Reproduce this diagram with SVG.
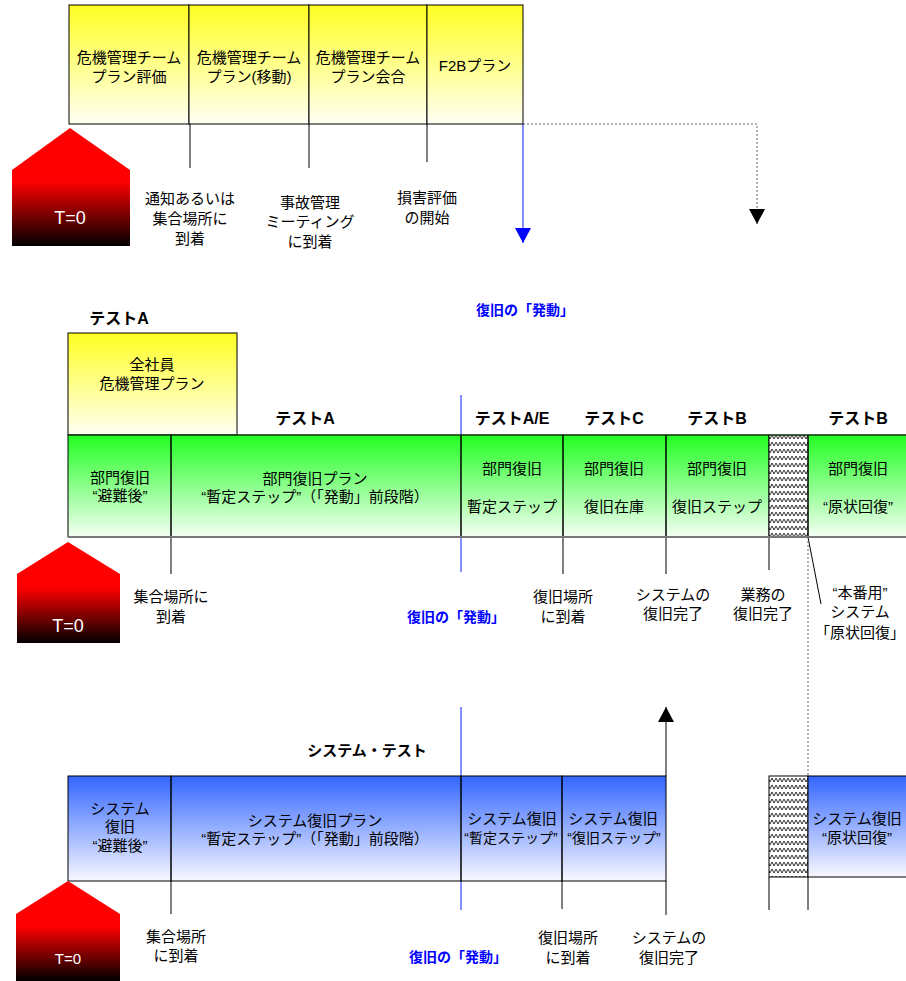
<svg xmlns="http://www.w3.org/2000/svg" width="906" height="981" viewBox="0 0 906 981">
<defs>
<linearGradient id="gy" x1="0" y1="0" x2="0" y2="1"><stop offset="0" stop-color="#ffff22"/><stop offset="1" stop-color="#fffff4"/></linearGradient>
<linearGradient id="gg" x1="0" y1="0" x2="0" y2="1"><stop offset="0" stop-color="#22ff22"/><stop offset="1" stop-color="#f4fff4"/></linearGradient>
<linearGradient id="gb" x1="0" y1="0" x2="0" y2="1"><stop offset="0" stop-color="#3366ff"/><stop offset="1" stop-color="#f8f8ff"/></linearGradient>
<linearGradient id="gr" x1="0" y1="0" x2="0" y2="1"><stop offset="0" stop-color="#ff0000"/><stop offset="0.45" stop-color="#ff0000"/><stop offset="1" stop-color="#000000"/></linearGradient>
<pattern id="zz" width="8" height="7" patternUnits="userSpaceOnUse"><rect width="8" height="7" fill="#fff"/><path d="M0,1 L2,5 L4,1 L6,5 L8,1" fill="none" stroke="#000" stroke-width="0.8"/></pattern>
<marker id="ab" markerWidth="16" markerHeight="16" refX="15" refY="8" orient="auto" markerUnits="userSpaceOnUse" viewBox="0 0 16 16"><path d="M0,0 L15,8 L0,16 Z" fill="#0000ff"/></marker>
<marker id="ak" markerWidth="16" markerHeight="16" refX="15" refY="8" orient="auto" markerUnits="userSpaceOnUse" viewBox="0 0 16 16"><path d="M0,0 L15,8 L0,16 Z" fill="#000"/></marker>
</defs>
<style>
text{font-family:"Liberation Sans","Noto Sans CJK JP",sans-serif;font-size:15px;fill:#000;text-anchor:middle}
.b{font-weight:bold;font-size:16px}
.bl{font-weight:bold;fill:#0000ff;font-size:14px}
.w{fill:#fff;font-size:18px}
.s{font-size:14px}
.box{stroke:#000;stroke-width:1}
.ln{stroke:#000;stroke-width:1;fill:none}
.blue{stroke:#3344ff;stroke-width:1.2;fill:none}
.dot{stroke:#666;stroke-width:1;stroke-dasharray:2,2;fill:none}
</style>

<g id="connectors">
<line class="ln" x1="190" y1="124" x2="190" y2="168"/>
<line class="ln" x1="309" y1="124" x2="309" y2="168"/>
<line class="ln" x1="427" y1="124" x2="427" y2="162"/>
<line class="blue" x1="523" y1="124" x2="523" y2="243" marker-end="url(#ab)"/>
<polyline class="dot" points="523,124 757,124 757,224" marker-end="url(#ak)"/>
<line class="ln" x1="171" y1="537" x2="171" y2="574"/>
<line class="blue" x1="461" y1="395" x2="461" y2="572"/>
<line class="ln" x1="563" y1="537" x2="563" y2="574"/>
<line class="ln" x1="666" y1="537" x2="666" y2="574"/>
<line class="ln" x1="769" y1="537" x2="769" y2="570"/>
<line class="ln" x1="808" y1="537" x2="821" y2="604"/>
<line class="dot" x1="808" y1="537" x2="808" y2="776"/>
<line class="blue" x1="461" y1="707" x2="461" y2="910"/>
<line class="ln" x1="666" y1="776" x2="666" y2="707" marker-end="url(#ak)"/>
<line class="ln" x1="171" y1="881" x2="171" y2="914"/>
<line class="ln" x1="562" y1="881" x2="562" y2="909"/>
<line class="ln" x1="666" y1="881" x2="666" y2="915"/>
<line class="ln" x1="769" y1="877" x2="769" y2="910"/>
<line class="ln" x1="808" y1="877" x2="808" y2="910"/>
</g>

<g id="top-boxes">
<g id="t1"><rect class="box" x="69" y="5" width="120" height="119" fill="url(#gy)"/><text x="129" y="63">危機管理チーム</text><text x="129" y="82">プラン評価</text></g>
<g id="t2"><rect class="box" x="189" y="5" width="120" height="119" fill="url(#gy)"/><text x="249" y="63">危機管理チーム</text><text x="249" y="82">プラン(移動)</text></g>
<g id="t3"><rect class="box" x="309" y="5" width="118" height="119" fill="url(#gy)"/><text x="368" y="63">危機管理チーム</text><text x="368" y="82">プラン会合</text></g>
<g id="t4"><rect class="box" x="427" y="5" width="96" height="119" fill="url(#gy)"/><text x="475" y="71">F2Bプラン</text></g>
</g>
<g id="tzero1"><polygon points="70,128 130,170 130,246 12,246 12,170" fill="url(#gr)"/><text class="w" x="70" y="224">T=0</text></g>
<g id="top-labels">
<text x="190" y="204">通知あるいは</text><text x="190" y="224">集合場所に</text><text x="190" y="244">到着</text>
<text x="310" y="208">事故管理</text><text x="310" y="227">ミーティング</text><text x="310" y="247">に到着</text>
<text x="427" y="203">損害評価</text><text x="427" y="223">の開始</text>
</g>

<g id="mid">
<text class="b" x="119" y="324">テストA</text>
<text class="bl" x="525" y="315">復旧の「発動」</text>
<g id="m0"><rect class="box" x="68" y="333" width="169" height="102" fill="url(#gy)"/><text x="152" y="370">全社員</text><text x="152" y="389">危機管理プラン</text></g>
<text class="b" x="305" y="424">テストA</text>
<text class="b" x="512" y="424">テストA/E</text>
<text class="b" x="614" y="424">テストC</text>
<text class="b" x="717" y="424">テストB</text>
<text class="b" x="858" y="424">テストB</text>
<rect x="68" y="435" width="845" height="102" fill="url(#gg)" stroke="none"/>
<g id="m1"><rect class="box" x="68" y="435" width="103" height="102" fill="none"/><text x="120" y="483">部門復旧</text><text x="120" y="501">“避難後”</text></g>
<g id="m2"><rect class="box" x="171" y="435" width="290" height="102" fill="none"/><text x="315" y="484">部門復旧プラン</text><text x="315" y="502">“暫定ステップ”（「発動」前段階）</text></g>
<g id="m3"><rect class="box" x="461" y="435" width="102" height="102" fill="none"/><text x="512" y="474">部門復旧</text><text x="512" y="512">暫定ステップ</text></g>
<g id="m4"><rect class="box" x="563" y="435" width="103" height="102" fill="none"/><text x="614" y="474">部門復旧</text><text x="614" y="512">復旧在庫</text></g>
<g id="m5"><rect class="box" x="666" y="435" width="103" height="102" fill="none"/><text x="717" y="474">部門復旧</text><text x="717" y="512">復旧ステップ</text></g>
<g id="m6"><rect class="box" x="769" y="435" width="39" height="102" fill="url(#zz)"/></g>
<g id="m7"><rect class="box" x="808" y="435" width="105" height="102" fill="none"/><text x="858" y="474">部門復旧</text><text x="858" y="512">“原状回復”</text></g>
<line x1="68" y1="537" x2="906" y2="537" stroke="#777" stroke-width="2"/>
<line x1="68" y1="435" x2="906" y2="435" stroke="#114411" stroke-width="1"/>
</g>
<g id="tzero2"><polygon points="68,542 120,574 120,643 17,643 17,574" fill="url(#gr)"/><text class="w" x="68" y="632">T=0</text></g>
<g id="mid-labels">
<text x="171" y="602">集合場所に</text><text x="171" y="622">到着</text>
<text class="bl" x="456" y="622">復旧の「発動」</text>
<text x="563" y="602">復旧場所</text><text x="563" y="622">に到着</text>
<text x="673" y="600">システムの</text><text x="673" y="619">復旧完了</text>
<text x="763" y="600">業務の</text><text x="763" y="619">復旧完了</text>
<text x="860" y="598">“本番用”</text><text x="860" y="617">システム</text><text x="860" y="638">「原状回復」</text>
</g>

<g id="bot">
<text class="b" x="367" y="756" style="font-size:15px">システム・テスト</text>
<rect x="68" y="776" width="598" height="105" fill="url(#gb)" stroke="none"/>
<g id="b1"><rect class="box" x="68" y="776" width="103" height="105" fill="none"/><text x="120" y="814">システム</text><text x="120" y="832">復旧</text><text x="120" y="851">“避難後”</text></g>
<g id="b2"><rect class="box" x="171" y="776" width="290" height="105" fill="none"/><text x="315" y="826">システム復旧プラン</text><text x="315" y="844">“暫定ステップ”（「発動」前段階）</text></g>
<g id="b3"><rect class="box" x="461" y="776" width="101" height="105" fill="none"/><text x="512" y="824">システム復旧</text><text class="s" x="511" y="843">“暫定ステップ”</text></g>
<g id="b4"><rect class="box" x="562" y="776" width="104" height="105" fill="none"/><text x="613" y="824">システム復旧</text><text class="s" x="614" y="843">“復旧ステップ”</text></g>
<g id="b5"><rect class="box" x="769" y="776" width="39" height="101" fill="url(#zz)"/></g>
<g id="b6"><rect class="box" x="808" y="776" width="105" height="101" fill="url(#gb)"/><text x="857" y="824">システム復旧</text><text x="857" y="843">“原状回復”</text></g>
</g>
<g id="tzero3"><polygon points="68,881 120,914 120,981 16,981 16,914" fill="url(#gr)"/><text class="w" x="68" y="964" style="font-size:15px">T=0</text></g>
<g id="bot-labels">
<text x="176" y="942">集合場所</text><text x="176" y="961">に到着</text>
<text class="bl" x="458" y="962">復旧の「発動」</text>
<text x="568" y="943">復旧場所</text><text x="568" y="963">に到着</text>
<text x="669" y="943">システムの</text><text x="669" y="963">復旧完了</text>
</g>
</svg>
